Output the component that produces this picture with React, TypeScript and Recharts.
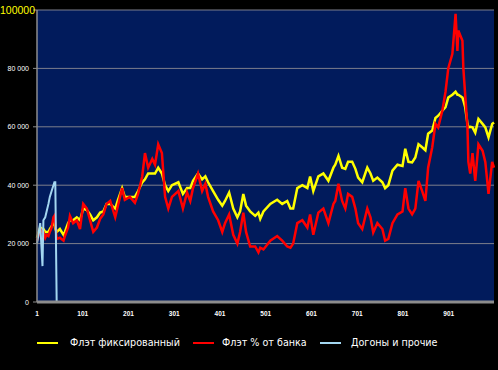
import { LineChart, Line, XAxis, YAxis, CartesianGrid } from "recharts";

// bet number (x) at which each value was read
const pointIndex = [
  1, 8, 13, 15, 19, 22, 26, 29, 33, 37,
  39, 41, 44, 51, 59, 62, 69, 73, 80, 88,
  95, 102, 110, 117, 124, 132, 139, 146, 153, 161,
  172, 178, 187, 193, 204, 215, 222, 231, 237, 244,
  253, 259, 266, 274, 281, 288, 296, 310, 320, 329,
  336, 342, 353, 362, 369, 375, 386, 397, 406, 412,
  421, 430, 439, 445, 452, 458, 467, 478, 485, 489,
  496, 511, 526, 537, 548, 555, 561, 570, 581, 592,
  598, 605, 616, 627, 638, 649, 653, 660, 668, 675,
  681, 690, 697, 703, 712, 723, 730, 736, 745, 756,
  762, 769, 778, 789, 800, 806, 813, 821, 828, 835,
  843, 850, 856, 865, 872, 878, 887, 894, 900, 909,
  916, 920, 922, 931, 933, 937, 942, 944, 948, 953,
  959, 966, 975, 981, 988, 996, 1000,
];

const fixedFlat = [
  22000, 25500, 25000, 25000, 24000, 24000, 24000, 25000, 26000, 27000,
  27000, 25000, 24000, 25000, 23000, 24000, 27000, 28000, 28000, 29000,
  28000, 32000, 31500, 30000, 28000, 29000, 30600, 31000, 33600, 33600,
  32000, 35000, 39000, 36000, 36000, 36000, 38000, 41000, 42000, 44000,
  44000, 44000, 46000, 44000, 40000, 38000, 40000, 41000, 37000, 39000,
  39000, 41500, 44000, 42000, 43000, 41000, 38000, 35000, 33000, 34600,
  37500, 32000, 29000, 31000, 37000, 33000, 31000, 29500, 30600, 28500,
  31000, 33600, 35000, 33600, 34600, 32000, 32000, 39000, 40000, 39000,
  43000, 38000, 43000, 44000, 41500, 46000, 47000, 50000, 46000, 45600,
  48000, 48000, 45600, 42600, 41000, 46000, 44000, 41500, 42600, 41000,
  39000, 40000, 45000, 47000, 46600, 52500, 48000, 47800, 49500, 54000,
  53000, 52000, 57600, 58700, 63000, 63800, 65500, 66700, 70000, 71000,
  72000, 71000, 71000, 70000, 69000, 66700, 61000, 59800, 60000, 59800,
  58000, 62700, 61000, 59800, 56400, 61000, 61500,
];

const percentFlat = [
  21000, 25000, 24000, 24000, 22000, 23000, 22600, 24000, 25500, 29000,
  29500, 27000, 21600, 22000, 21000, 22600, 25500, 29500, 27000, 28000,
  25000, 33600, 32000, 28000, 24000, 25500, 28500, 30000, 33600, 34600,
  29000, 33000, 39000, 35000, 36000, 34000, 37000, 43000, 51000, 46000,
  49000, 47000, 54000, 51000, 36000, 32000, 36000, 38000, 32000, 37500,
  34600, 39000, 44000, 38000, 40500, 36000, 31000, 28000, 24000, 27000,
  30000, 23000, 20000, 24000, 30600, 24000, 19000, 19000, 17000, 18600,
  18000, 21000, 22600, 21000, 19000, 18600, 20000, 27000, 28000, 25500,
  30000, 23000, 30600, 32000, 27000, 33600, 34600, 40500, 34600, 32000,
  37000, 36000, 32000, 27000, 25000, 32000, 29000, 23800, 27000, 25000,
  21000, 21600, 27000, 30000, 31000, 39000, 32000, 30000, 32000, 41500,
  38000, 34600, 46000, 53000, 61000, 59800, 65500, 72000, 80000, 85000,
  98700, 86000, 93000, 89500, 80000, 71000, 59800, 48000, 44000, 51000,
  41500, 54000, 51800, 48000, 37000, 48000, 46000,
];

const catchUpIndex = [1, 8, 13, 15, 19, 22, 26, 29, 33, 37, 39, 41, 44, 1000];
const catchUps = [20000, 27000, 12300, 28000, 29000, 31000, 33600, 36000, 38000, 40000, 41000, 41000, 0, 0];

const xTicks = [1, 101, 201, 301, 401, 501, 601, 701, 801, 901];
const yTicks = [0, 20000, 40000, 60000, 80000, 100000];

const seriesNames = ["Флэт фиксированный", "Флэт % от банка", "Догоны и прочие"];
const COLORS = ["#ffff00", "#ff0000", "#a3d6f0"];

const data = pointIndex.map((x, i) => ({ x, fixed: fixedFlat[i], percent: percentFlat[i] }));
const catchData = catchUpIndex.map((x, i) => ({ x, catchUp: catchUps[i] }));

const FONT = "'Liberation Sans', Arial, sans-serif";

function formatY(v: number) {
  if (v === 0) return "0";
  return `${v / 1000} 000`;
}

function YTick(props: any) {
  const { x, y, payload } = props;
  if (payload.value === 100000) {
    return (
      <text x={x + 6} y={y} dy={4} textAnchor="end" fill="#ffff00" fontSize={10.5} fontFamily={FONT}>
        100000
      </text>
    );
  }
  return (
    <text x={x} y={y} dy={2.5} textAnchor="end" fill="#ffffff" fontSize={7} fontFamily={FONT}>
      {formatY(payload.value)}
    </text>
  );
}

function XTick(props: any) {
  const { x, y, payload } = props;
  return (
    <text x={x} y={y} dy={6} textAnchor="middle" fill="#ffffff" fontSize={6.5} fontWeight="bold" fontFamily={FONT}>
      {payload.value}
    </text>
  );
}

const legendItems = [
  { line: 37, text: 70 },
  { line: 193, text: 222 },
  { line: 320, text: 351 },
];

export default function App() {
  return (
    <div style={{ position: "absolute", left: 0, top: 0, width: 498, height: 370, background: "#000" }}>
      <LineChart width={498} height={370} data={data} margin={{ top: 10, right: 4, bottom: 48, left: 0 }}>
        <CartesianGrid vertical={false} stroke="#7d7f8c" fill="#011b5c" />
        <XAxis
          dataKey="x"
          type="number"
          domain={[1, 1000]}
          ticks={xTicks}
          interval={0}
          height={20}
          tick={<XTick />}
          tickLine={false}
          axisLine={{ stroke: "#8c8c8c", strokeWidth: 3 }}
        />
        <YAxis
          type="number"
          domain={[0, 100000]}
          ticks={yTicks}
          interval={0}
          width={37}
          tickSize={4}
          tickMargin={4}
          tick={<YTick />}
          tickLine={{ stroke: "#8c8c8c" }}
          axisLine={{ stroke: "#8c8c8c", strokeWidth: 1.5 }}
        />
        <Line dataKey="fixed" stroke={COLORS[0]} strokeWidth={2.5} dot={false} isAnimationActive={false} />
        <Line dataKey="percent" stroke={COLORS[1]} strokeWidth={2.5} dot={false} isAnimationActive={false} />
        <Line data={catchData} dataKey="catchUp" stroke={COLORS[2]} strokeWidth={2} dot={false} isAnimationActive={false} />
      </LineChart>
      {legendItems.map((item, i) => (
        <div key={i}>
          <div
            style={{ position: "absolute", left: item.line, top: 342, width: 21, height: 2, background: COLORS[i] }}
          />
          <div
            style={{
              position: "absolute",
              left: item.text,
              top: 336,
              color: "#fff",
              fontFamily: "'DejaVu Sans', sans-serif",
              fontSize: 9.6,
              lineHeight: "14px",
              whiteSpace: "nowrap",
            }}
          >
            {seriesNames[i]}
          </div>
        </div>
      ))}
    </div>
  );
}
